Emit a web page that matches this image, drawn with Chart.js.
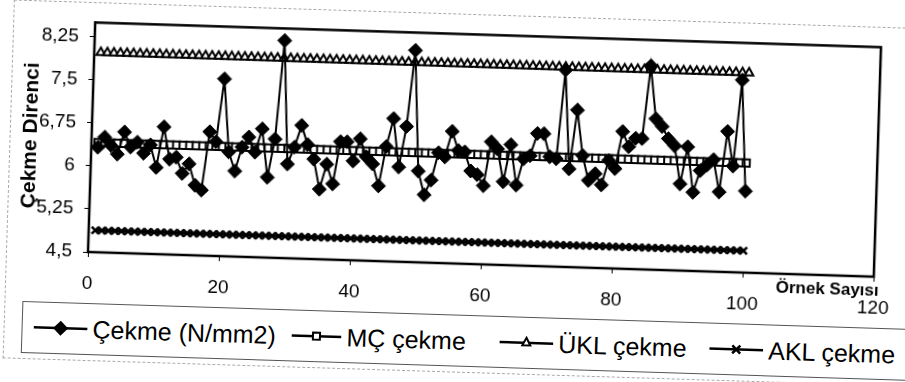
<!DOCTYPE html>
<html>
<head>
<meta charset="utf-8">
<script src="https://cdn.jsdelivr.net/npm/chart.js@4.4.1/dist/chart.umd.min.js"></script>
<style>
    html, body { margin: 0; padding: 0; background: #fff; overflow: hidden; }
    #page {
        position: relative; width: 905px; height: 382px;
        transform: rotate(1.8deg); transform-origin: 88px 252px;
        font-family: "Liberation Sans", Arial, sans-serif;
    }
    #chart { position: absolute; left: 0; top: 0; }
    #frame { position: absolute; left: 6px; top: 2px; width: 1000px; height: 357px; border: 1px dashed #aaa; }
    #legend { position: absolute; left: 24px; top: 303px; width: 900px; height: 50px; border: 1px solid #555; }
    .item { position: absolute; top: 0; height: 50px; display: flex; align-items: center; font-size: 25px; color: #000; white-space: nowrap; }
    .item svg { margin-right: 5px; }
</style>
</head>
<body>
<div id="page">
    <div id="frame"></div>
    <canvas id="chart" width="905" height="300"></canvas>
    <div id="legend">
        <div class="item" style="left:11px">
            <svg width="54" height="20"><line x1="0" y1="10" x2="54" y2="10" stroke="#000" stroke-width="2.5"/><polygon points="27,2.5 34.5,10 27,17.5 19.5,10" fill="#000"/></svg>Çekme (N/mm2)
        </div>
        <div class="item" style="left:269px">
            <svg width="50" height="20"><line x1="0" y1="10" x2="50" y2="10" stroke="#000" stroke-width="2.5"/><rect x="21.5" y="6.5" width="7" height="7" fill="#fff" stroke="#000" stroke-width="2"/></svg>MÇ çekme
        </div>
        <div class="item" style="left:477px">
            <svg width="54" height="20"><line x1="0" y1="10" x2="54" y2="10" stroke="#000" stroke-width="2.5"/><polygon points="27,5 31,12.5 23,12.5" fill="#fff" stroke="#000" stroke-width="2"/></svg>ÜKL çekme
        </div>
        <div class="item" style="left:687px">
            <svg width="54" height="20"><line x1="0" y1="10" x2="54" y2="10" stroke="#000" stroke-width="2.5"/><path d="M23,6 L31,14 M31,6 L23,14" stroke="#000" stroke-width="2.5"/></svg>AKL çekme
        </div>
    </div>
</div>
<script>
// Çekme direnci ölçümleri (100 örnek)
const cekme = [
    6.33, 6.51, 6.37, 6.22, 6.61, 6.35, 6.44, 6.25, 6.40, 6.01,
    6.72, 6.16, 6.20, 5.92, 6.09, 5.72, 5.64, 6.66, 6.49, 7.59,
    6.32, 5.99, 6.41, 6.59, 6.33, 6.74, 5.90, 6.57, 8.29, 6.14,
    6.44, 6.82, 6.49, 6.24, 5.72, 6.16, 5.82, 6.56, 6.56, 6.23,
    6.62, 6.31, 6.19, 5.81, 6.50, 6.99, 6.15, 6.86, 8.19, 6.09,
    5.68, 5.94, 6.42, 6.35, 6.80, 6.47, 6.45, 6.12, 6.06, 5.87,
    6.64, 6.52, 5.95, 6.60, 5.90, 6.36, 6.42, 6.81, 6.81, 6.41,
    6.38, 7.93, 6.21, 7.24, 6.45, 6.02, 6.14, 5.95, 6.38, 6.24,
    6.89, 6.63, 6.78, 6.78, 8.05, 7.13, 7.00, 6.79, 6.67, 6.01,
    6.66, 5.87, 6.25, 6.35, 6.45, 5.89, 6.95, 6.35, 7.85, 5.92
];
const ornekNo = cekme.map((v, i) => i + 1);

const mcCekme = 6.41;   // merkez çizgi
const uklCekme = 7.98;  // üst kontrol limiti
const aklCekme = 4.88;  // alt kontrol limiti

const yTicks = [4.5, 5.25, 6, 6.75, 7.5, 8.25];
const xTicks = [0, 20, 40, 60, 80, 100, 120];

Chart.defaults.font.family = '"Liberation Sans", Arial, sans-serif';
Chart.defaults.color = '#000';

const pts = vals => ornekNo.map((x, i) => ({ x: x, y: vals[i] }));
const flat = v => ornekNo.map(x => ({ x: x, y: v }));

const framePlugin = {
    id: 'frame',
    afterDraw(chart) {
        const { ctx, chartArea: a } = chart;
        ctx.save();
        ctx.strokeStyle = '#000';
        ctx.lineWidth = 2.5;
        ctx.strokeRect(a.left, a.top, a.right - a.left, a.bottom - a.top);
        ctx.font = 'bold 17px "Liberation Sans", Arial, sans-serif';
        ctx.fillStyle = '#000';
        ctx.textAlign = 'center';
        ctx.textBaseline = 'middle';
        ctx.fillText('Örnek Sayısı', 828, 266);
        ctx.restore();
    }
};

new Chart(document.getElementById('chart'), {
    type: 'line',
    data: {
        datasets: [
            {
                label: 'Çekme (N/mm2)', data: pts(cekme),
                borderColor: '#000', borderWidth: 2,
                pointStyle: 'rectRot', pointRadius: 7,
                pointBackgroundColor: '#000', pointBorderColor: '#000', pointBorderWidth: 1
            },
            {
                label: 'MÇ çekme', data: flat(mcCekme),
                borderColor: '#000', borderWidth: 2.5,
                pointStyle: 'rect', pointRadius: 5,
                pointBackgroundColor: '#fff', pointBorderColor: '#000', pointBorderWidth: 2
            },
            {
                label: 'ÜKL çekme', data: flat(uklCekme),
                borderColor: '#000', borderWidth: 2.5,
                pointStyle: 'triangle', pointRadius: 5,
                pointBackgroundColor: '#fff', pointBorderColor: '#000', pointBorderWidth: 2
            },
            {
                label: 'AKL çekme', data: flat(aklCekme),
                borderColor: '#000', borderWidth: 2.5,
                pointStyle: 'crossRot', pointRadius: 5,
                pointBorderColor: '#000', pointBorderWidth: 2.5
            }
        ]
    },
    options: {
        responsive: false,
        animation: false,
        devicePixelRatio: 1,
        layout: { padding: { left: 0, right: 16, top: 22, bottom: 0 } },
        plugins: { legend: { display: false }, tooltip: { enabled: false } },
        scales: {
            x: {
                type: 'linear', min: 0, max: 120,
                afterBuildTicks: s => { s.ticks = xTicks.map(v => ({ value: v })); },
                ticks: { font: { size: 19 }, padding: 15, maxRotation: 0 },
                grid: { drawOnChartArea: false, tickLength: 5, color: '#000' },
                border: { color: '#000', width: 2 },
                afterFit: s => { s.height = 48; }
            },
            y: {
                min: 4.5, max: 8.5,
                afterBuildTicks: s => { s.ticks = yTicks.map(v => ({ value: v })); },
                ticks: { font: { size: 19 }, padding: 11, callback: v => String(v).replace('.', ',') },
                grid: { drawOnChartArea: false, tickLength: 5, color: '#000' },
                border: { color: '#000', width: 2 },
                title: {
                    display: true, text: 'Çekme Direnci', color: '#000',
                    font: { size: 21, weight: 'bold' }, padding: { top: 15, bottom: 0 }
                },
                afterFit: s => { s.width = 88; }
            }
        }
    },
    plugins: [framePlugin]
});
</script>
</body>
</html>
